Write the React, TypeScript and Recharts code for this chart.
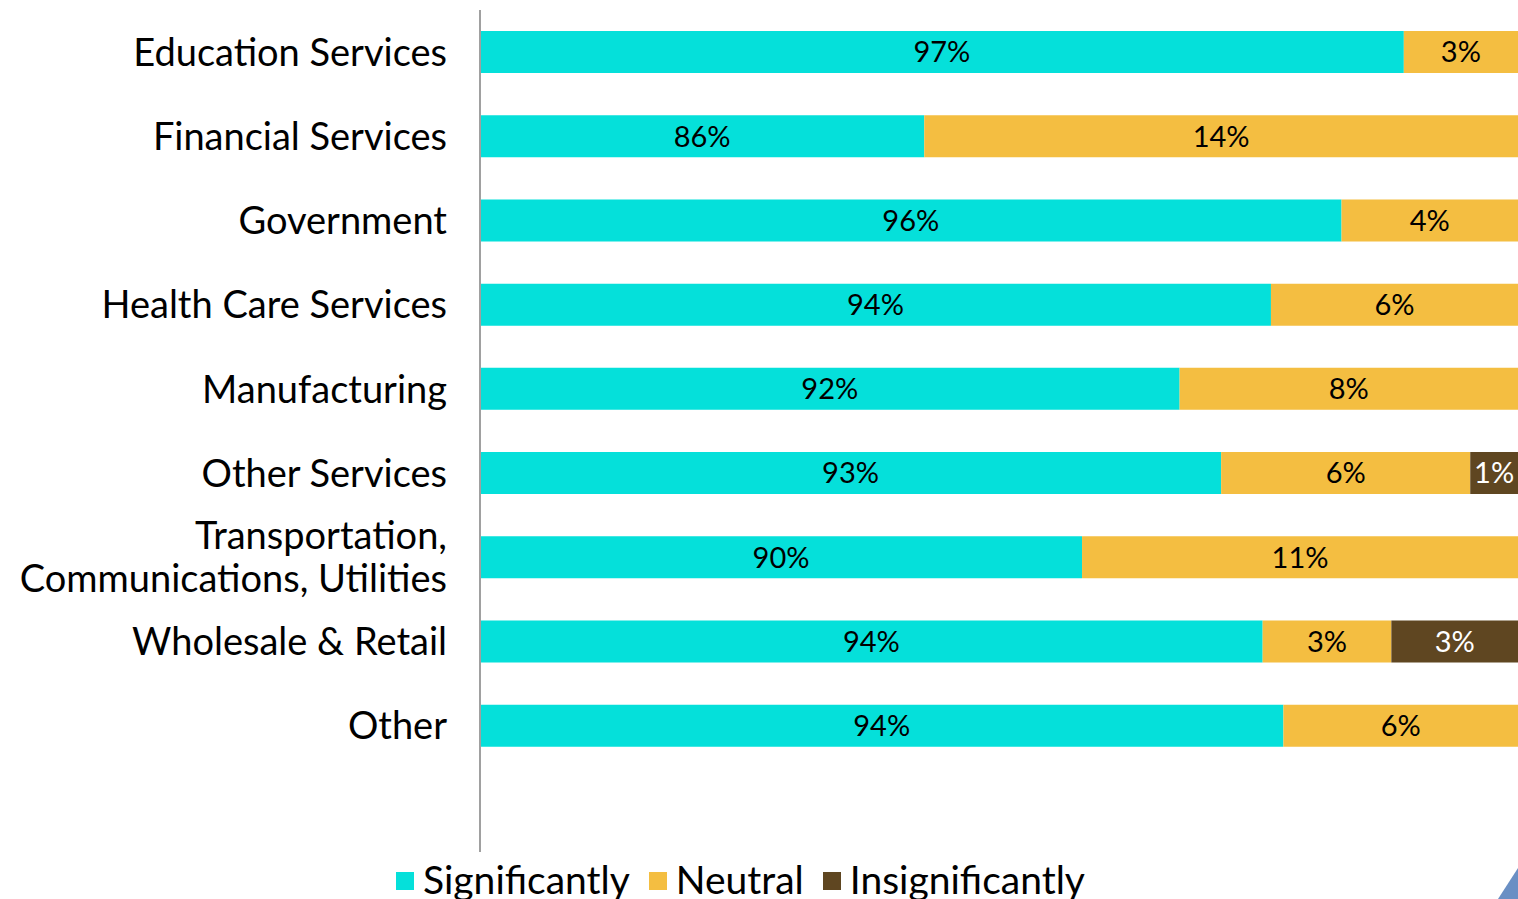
import React from "react";
import { BarChart, Bar, XAxis, YAxis, Legend, LabelList } from "recharts";

const categories = [
  "Education Services",
  "Financial Services",
  "Government",
  "Health Care Services",
  "Manufacturing",
  "Other Services",
  "Transportation,\nCommunications, Utilities",
  "Wholesale & Retail",
  "Other",
  "",
];
const significantly = [97.25, 85.7, 95.75, 94.05, 91.85, 92.85, 89.5, 93.85, 94.35, null];
const neutral = [2.75, 14.3, 4.25, 5.95, 8.15, 6.0, 10.5, 3.1, 5.65, null];
const insignificantly = [null, null, null, null, null, 1.15, null, 3.05, null, null];
const seriesNames = ["Significantly", "Neutral", "Insignificantly"];
const xDomain = [75, 100];

const COLORS = ["#05E0DA", "#F4BE41", "#5F4621"];
const FONT = "Lato, 'DejaVu Sans', sans-serif";
const Y_AXIS_WIDTH = 480;

const data = categories.map((name, i) => ({
  name,
  sig: significantly[i],
  neu: neutral[i],
  ins: insignificantly[i],
}));

const makeLabel = (fill: string) => (props: any) => {
  const { x, y, width, height, value } = props;
  if (value == null || value === 0) return null;
  const left = Math.max(x, Y_AXIS_WIDTH);
  const right = x + width;
  const cx = (left + right) / 2;
  const cy = y + height / 2;
  return (
    <text
      x={cx}
      y={cy}
      dy="0.36em"
      textAnchor="middle"
      fill={fill}
      fontSize={29}
      fontFamily={FONT}
    >
      {Math.round(value) + "%"}
    </text>
  );
};

const CategoryTick = (props: any) => {
  const { x, y, payload } = props;
  const lines = String(payload.value).split("\n");
  const lh = 43;
  const start = -((lines.length - 1) * lh) / 2;
  return (
    <g>
      {lines.map((ln, i) => (
        <text
          key={i}
          x={x}
          y={y + start + i * lh}
          dy="0.36em"
          textAnchor="end"
          fill="#000"
          fontSize={38}
          fontFamily={FONT}
        >
          {ln}
        </text>
      ))}
    </g>
  );
};

const LegendContent = (props: any) => {
  const items = [...(props.payload || [])].sort(
    (a: any, b: any) => seriesNames.indexOf(a.value) - seriesNames.indexOf(b.value)
  );
  return (
    <div
      style={{
        height: 47,
        display: "flex",
        alignItems: "flex-start",
        marginLeft: 396,
        fontFamily: FONT,
      }}
    >
      {items.map((p: any, i: number) => (
        <div key={i} style={{ display: "flex", alignItems: "center", marginRight: 19, marginTop: 10, height: 38 }}>
          <div style={{ width: 18, height: 18, background: p.color, marginRight: 9 }} />
          <span
            style={{
              fontSize: 39,
              lineHeight: "38px",
              color: "#000",
              whiteSpace: "nowrap",
              position: "relative",
              top: -2,
            }}
          >
            {p.value}
          </span>
        </div>
      ))}
    </div>
  );
};

export default function App() {
  return (
    <div style={{ position: "absolute", left: 0, top: 0, width: 1518, height: 899, background: "#fff", overflow: "hidden" }}>
      <BarChart
        width={1518}
        height={899}
        data={data}
        layout="vertical"
        margin={{ top: 10, right: 0, bottom: 0, left: 0 }}
        barCategoryGap="25%"
      >
        <XAxis type="number" domain={xDomain} allowDataOverflow hide />
        <YAxis
          type="category"
          dataKey="name"
          width={Y_AXIS_WIDTH}
          axisLine={{ stroke: "#A0A0A0", strokeWidth: 2 }}
          tickLine={false}
          tickSize={0}
          tickMargin={33}
          interval={0}
          tick={<CategoryTick />}
        />
        <Legend verticalAlign="bottom" align="left" content={<LegendContent />} />
        <Bar dataKey="sig" name={seriesNames[0]} stackId="a" fill={COLORS[0]} isAnimationActive={false}>
          <LabelList dataKey="sig" content={makeLabel("#000")} />
        </Bar>
        <Bar dataKey="neu" name={seriesNames[1]} stackId="a" fill={COLORS[1]} isAnimationActive={false}>
          <LabelList dataKey="neu" content={makeLabel("#000")} />
        </Bar>
        <Bar dataKey="ins" name={seriesNames[2]} stackId="a" fill={COLORS[2]} isAnimationActive={false}>
          <LabelList dataKey="ins" content={makeLabel("#fff")} />
        </Bar>
      </BarChart>
      <svg style={{ position: "absolute", left: 1498, top: 868 }} width={20} height={31}>
        <polygon points="20,0 20,31 0,31" fill="#6A8FC4" />
      </svg>
    </div>
  );
}
